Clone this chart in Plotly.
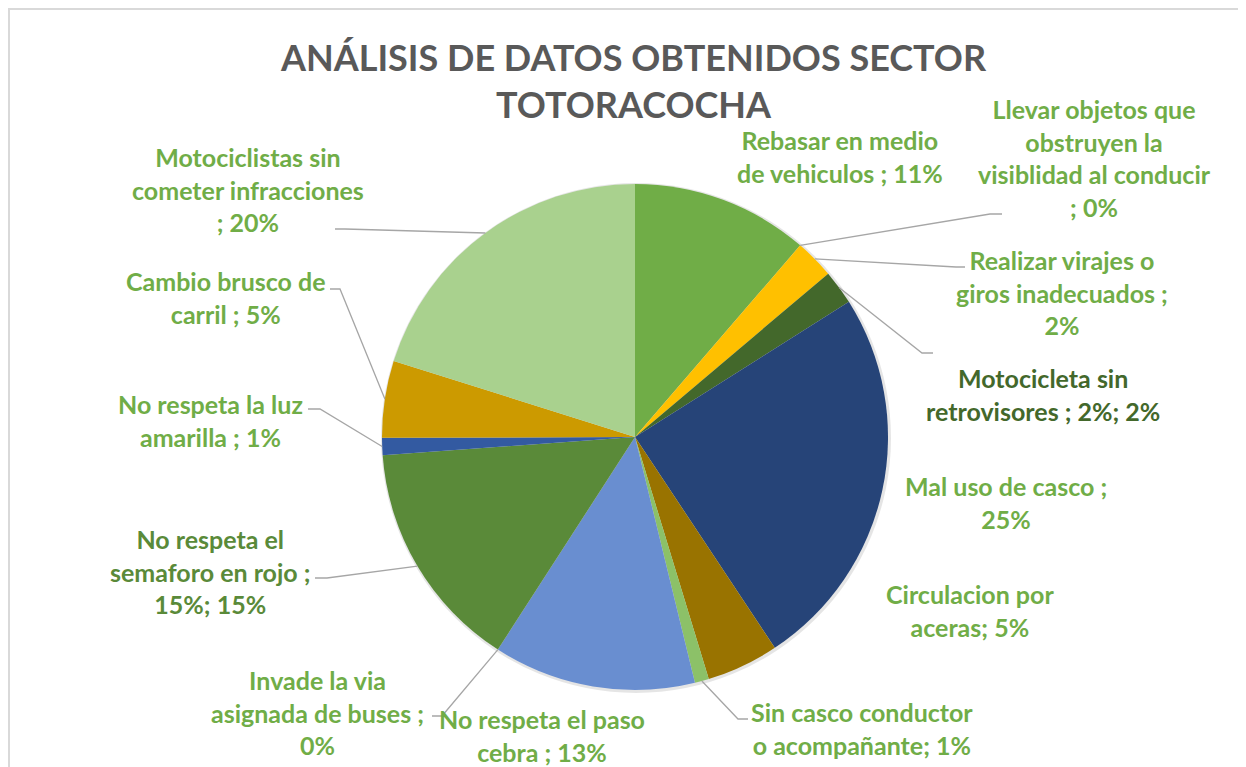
import math
import plotly.graph_objects as go

# ---------------- data ----------------
categories = [
    "Rebasar en medio de vehiculos",
    "Llevar objetos que obstruyen la visiblidad al conducir",
    "Realizar virajes o giros inadecuados",
    "Motocicleta sin retrovisores",
    "Mal uso de casco",
    "Circulacion por aceras",
    "Sin casco conductor o acompañante",
    "No respeta el paso cebra",
    "Invade la via asignada de buses",
    "No respeta el semaforo en rojo",
    "No respeta la luz amarilla",
    "Cambio brusco de carril",
    "Motociclistas sin cometer infracciones",
]
values = [11.3, 0, 2.5, 2.2, 24.6, 4.6, 0.9, 12.9, 0, 14.7, 1.1, 4.9, 20.1]
label_texts = [
    "Rebasar en medio<br>de vehiculos ; 11%",
    "Llevar objetos que<br>obstruyen la<br>visiblidad al conducir<br>; 0%",
    "Realizar virajes o<br>giros inadecuados ;<br>2%",
    "Motocicleta sin<br>retrovisores ; 2%; 2%",
    "Mal uso de casco ;<br>25%",
    "Circulacion por<br>aceras; 5%",
    "Sin casco conductor<br>o acompañante; 1%",
    "No respeta el paso<br>cebra ; 13%",
    "Invade la via<br>asignada de buses ;<br>0%",
    "No respeta el<br>semaforo en rojo ;<br>15%; 15%",
    "No respeta la luz<br>amarilla ; 1%",
    "Cambio brusco de<br>carril ; 5%",
    "Motociclistas sin<br>cometer infracciones<br>; 20%",
]
title_text = "ANÁLISIS DE DATOS OBTENIDOS SECTOR<br>TOTORACOCHA"

# ---------------- styles / layout ----------------
slice_colors = ["#70AD47", "#ED7D31", "#FFC000", "#43682B", "#264478", "#997300",
                "#8CC168", "#698ED0", "#9E480E", "#5A8A39", "#335AA1", "#CC9A00", "#A9D18E"]
text_colors = ["#70AD47"] * 13
text_colors[3] = "#43682B"
text_colors[9] = "#5A8A39"

OFF = 8                      # page body margin
W, H = 1246 - OFF, 767 - OFF  # figure size
CX, CY, R = 635, 437, 253    # pie centre / radius in window px

# label centre positions (window px) and leader-line anchors ; None = no leader
label_pos = [(840, 156), (1094, 158), (1062, 292), (1043, 394), (1006, 502),
             (970, 610), (862, 728), (542, 735), (317, 712), (210, 571),
             (210, 420), (226, 298), (248, 189)]
leader_anchor = [None, ((1002, 214), (990, 214)), ((965, 267), (956, 267)),
                 ((933, 353), (922, 353)), None, None, ((748, 719), (738, 719)),
                 None, ((432, 716), (442, 716)), ((315, 578), (327, 578)),
                 ((308, 409), (320, 409)), ((330, 289), (340, 289)),
                 ((335, 229), (345, 229))]


def px(x):
    return (x - OFF) / W


def py(y):
    return 1 - (y - OFF) / H


fig = go.Figure()
# soft shadow behind the pie
SR = R + 2
fig.add_trace(go.Pie(
    values=[1], labels=[""], sort=False, textinfo="none", hoverinfo="skip",
    marker=dict(colors=["rgba(0,0,0,0.10)"], line=dict(width=0)),
    domain=dict(x=[px(CX + 1 - SR), px(CX + 1 + SR)], y=[py(CY + 1 + SR), py(CY + 1 - SR)]),
    showlegend=False,
))
fig.add_trace(go.Pie(
    labels=categories,
    values=values,
    sort=False,
    direction="clockwise",
    rotation=0,
    textinfo="none",
    hoverinfo="label+percent",
    marker=dict(colors=slice_colors, line=dict(width=0)),
    domain=dict(x=[px(CX - R), px(CX + R)], y=[py(CY + R), py(CY - R)]),
    showlegend=False,
))

# leader lines: pie end computed from the data (slice mid-angle)
total = sum(values)
cum = 0.0
shapes = []
for i, v in enumerate(values):
    mid = (cum + v / 2) / total * 2 * math.pi
    cum += v
    if leader_anchor[i] is None:
        continue
    (ax0, ay0), (ax1, ay1) = leader_anchor[i]
    ex = CX + R * math.sin(mid)
    ey = CY - R * math.cos(mid)
    path = f"M {px(ax0)} {py(ay0)} L {px(ax1)} {py(ay1)} L {px(ex)} {py(ey)}"
    shapes.append(dict(type="path", path=path, xref="paper", yref="paper",
                       line=dict(color="#A6A6A6", width=1.3)))

# chart-area border (left and top)
shapes.append(dict(type="path",
                   path=f"M {px(9)} {py(800)} L {px(9)} {py(9)} L {px(1300)} {py(9)}",
                   xref="paper", yref="paper", line=dict(color="#D9D9D9", width=2)))

annotations = []
for i, t in enumerate(label_texts):
    x, y = label_pos[i]
    annotations.append(dict(
        text=f"<b>{t}</b>", x=px(x), y=py(y), xref="paper", yref="paper",
        xanchor="center", yanchor="middle", align="center", showarrow=False,
        font=dict(family="Lato", size=25, color=text_colors[i]),
    ))
annotations.append(dict(
    text=f"<b>{title_text}</b>", x=px(633), y=py(80), xref="paper", yref="paper",
    xanchor="center", yanchor="middle", align="center", showarrow=False,
    font=dict(family="Lato", size=36, color="#595959"),
))

fig.update_layout(
    width=W, height=H,
    margin=dict(l=0, r=0, t=0, b=0),
    paper_bgcolor="white",
    plot_bgcolor="white",
    shapes=shapes,
    annotations=annotations,
)

fig.write_html("out.html")
